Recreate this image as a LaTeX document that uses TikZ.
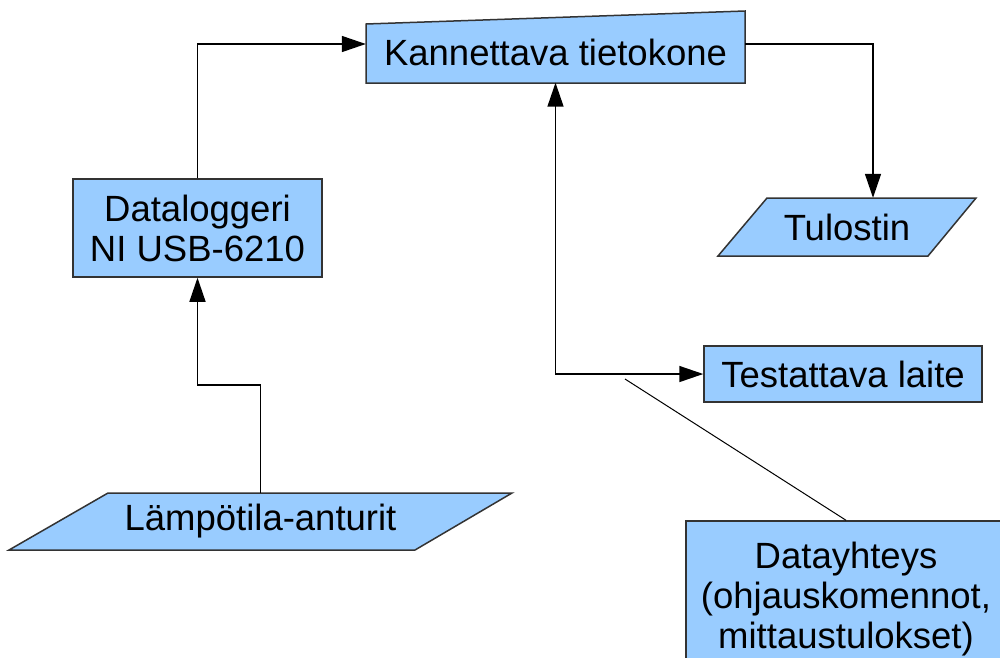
\documentclass[tikz,border=0pt]{standalone}
\usepackage{fontspec}
\setmainfont{Liberation Sans}
\usetikzlibrary{arrows.meta}
\definecolor{boxfill}{HTML}{99CCFF}
\definecolor{boxline}{HTML}{333333}
\tikzset{
  shapefill/.style={fill=boxfill, draw=boxline, line width=1.5pt, line join=miter},
  label/.style={inner sep=0pt, align=center, font=\fontsize{36.5}{40}\selectfont, text=black},
  rectbox/.style={label, fill=boxfill, draw=boxline, line width=1.5pt},
  tip/.style={Triangle[length=24pt,width=16pt]},
  conn/.style={draw=black, line width=1.5pt, -{Triangle[length=24pt,width=16pt]}},
  callout/.style={draw=black, line width=1pt}
}
\begin{document}
\begin{tikzpicture}[x=1pt,y=-1pt]
\useasboundingbox (0,0) rectangle (1000,657);

% outline shapes
\path[shapefill] (366,24) -- (745,11) -- (745,83) -- (366,83) -- cycle;
\path[shapefill] (767,198) -- (976,198) -- (928,256) -- (718,256) -- cycle;
\path[shapefill] (108,493) -- (512,493) -- (415,550) -- (9,550) -- cycle;

% labelled blocks
\node[label, minimum width=379pt, minimum height=59pt] (kone) at (555.5,52.5) {Kannettava tietokone};
\node[label, minimum width=258pt, minimum height=58pt] (tulostin) at (847,227) {Tulostin};
\node[label, minimum width=503pt, minimum height=57pt] (anturit) at (260.5,521.5) {Lämpötila-anturit};
\node[rectbox, minimum width=249pt, minimum height=98pt] (logger) at (197.5,228) {Dataloggeri\\NI USB-6210};
\node[rectbox, minimum width=278pt, minimum height=56pt] (laite) at (843,374) {Testattava laite};
\begin{scope}
  \clip (0,0) rectangle (1000,657);
  \node[rectbox, minimum width=320pt, minimum height=156pt] (yhteys) at (846,599)
    {Datayhteys\\(ohjauskomennot,\\mittaustulokset)};
\end{scope}

% connectors
\draw[conn] (logger.north) |- ([yshift=8.5pt]kone.west);
\draw[conn] ([yshift=8.5pt]kone.east) -| ([xshift=26pt]tulostin.north);
\draw[conn] (anturit.north) -- ++(0,-108) -| (logger.south);
\draw[conn, {Triangle[length=24pt,width=16pt]}-{Triangle[length=24pt,width=16pt]}] ([yshift=-0.5pt]kone.south) |- (laite.west);
\coordinate (tap) at (625,379);
\draw[callout] (tap) -- (yhteys.north);
\end{tikzpicture}
\end{document}
